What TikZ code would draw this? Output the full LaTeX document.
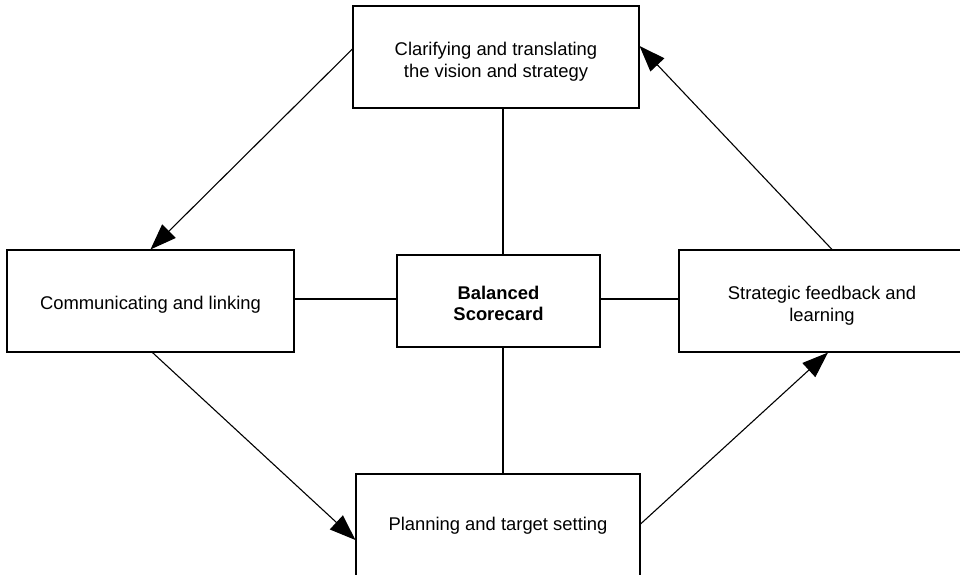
\documentclass[tikz,border=0pt]{standalone}
\usepackage{fontspec}
\setmainfont{Liberation Sans}
\usetikzlibrary{arrows.meta}
\begin{document}
\begin{tikzpicture}[x=0.5pt,y=-0.5pt,
  box/.style={draw, line width=0.55pt, inner sep=0pt},
  lbl/.style={inner sep=0pt, align=center,
    font=\fontsize{9.2pt}{10.8pt}\selectfont},
  link/.style={line width=0.55pt},
  arr/.style={line width=0.55pt, -{Triangle[length=13pt,width=9.5pt]}}]
  \clip (0,0) rectangle (960,574);
  \fill[white] (0,0) rectangle (960,574);

  % the five boxes, each with its caption
  \node[box, minimum width=143pt, minimum height=51pt,
    label={[lbl,yshift=-2.5pt]center:{Clarifying and translating\\the vision and strategy}}]
    (top) at (496,57) {};
  \node[box, minimum width=143.5pt, minimum height=51pt,
    label={[lbl,yshift=-1.75pt]center:{Communicating and linking}}]
    (left) at (150.5,301) {};
  \node[box, minimum width=101.5pt, minimum height=46pt,
    label={[lbl,yshift=-1.25pt]center:{\bfseries Balanced\\\bfseries Scorecard}}]
    (ctr) at (498.5,301) {};
  \node[box, minimum width=143pt, minimum height=51pt,
    label={[lbl,yshift=-2.5pt]center:{Strategic feedback and\\learning}}]
    (right) at (822,301) {};
  \node[box, minimum width=142pt, minimum height=51pt,
    label={[lbl,yshift=-0.5pt]center:{Planning and target setting}}]
    (bottom) at (498,525) {};

  % plain links to the centre box
  \coordinate (vx) at (503,0);
  \coordinate (hy) at (0,299);
  \draw[link] (top.south -| vx) -- (ctr.north -| vx);
  \draw[link] (ctr.south -| vx) -- (bottom.north -| vx);
  \draw[link] (left.east |- hy) -- (ctr.west |- hy);
  \draw[link] (ctr.east |- hy) -- (right.west |- hy);

  % the cycle of arrows
  \draw[arr] ([yshift=4pt]top.west) -- (left.north);
  \draw[arr] ([xshift=1pt]left.south) -- ([yshift=-7.5pt]bottom.west);
  \draw[arr] ([yshift=0.5pt]bottom.east) -- ([xshift=3pt]right.south);
  \draw[arr] ([xshift=5pt]right.north) -- ([yshift=5.5pt]top.east);
\end{tikzpicture}
\end{document}
